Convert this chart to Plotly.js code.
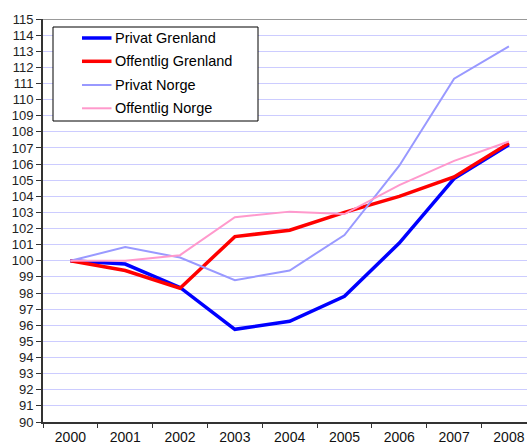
<!DOCTYPE html>
<html><head><meta charset="utf-8">
<script src="https://cdn.plot.ly/plotly-3.0.1.min.js"></script>
<style>html,body{margin:0;padding:0;background:#fff}#c{width:527px;height:448px}</style>
</head><body><div id="c"></div>
<script>
var years = ['2000','2001','2002','2003','2004','2005','2006','2007','2008'];
var privatGrenland = [100, 99.8, 98.35, 95.75, 96.25, 97.8, 101.1, 105.1, 107.2];
var offentligGrenland = [100, 99.4, 98.3, 101.5, 101.9, 103.0, 104.0, 105.2, 107.3];
var privatNorge = [100, 100.85, 100.2, 98.8, 99.4, 101.6, 105.9, 111.3, 113.3];
var offentligNorge = [100, 100.0, 100.35, 102.7, 103.05, 102.9, 104.7, 106.2, 107.4];
var seriesNames = ['Privat Grenland', 'Offentlig Grenland', 'Privat Norge', 'Offentlig Norge'];
var yTicks = [90,91,92,93,94,95,96,97,98,99,100,101,102,103,104,105,106,107,108,109,110,111,112,113,114,115];

var colors = ['#0000ff', '#ff0000', '#9999ff', '#ff99cc'];
var widths = [3.5, 3.5, 2, 2];
var values = [privatGrenland, offentligGrenland, privatNorge, offentligNorge];

var data = values.map(function(v, i){
  return {x: years, y: v, name: seriesNames[i], type:'scatter', mode:'lines',
    line:{color:colors[i], width:widths[i]}, showlegend:false};
});

// manual legend (paper coordinates; plot area 43..527 x 19..422)
function px(x){ return (x - 43) / 484; }
function py(y){ return (422 - y) / 403; }
var shapes = [
  {type:'line', xref:'paper', yref:'y', x0:0, x1:1, y0:115, y1:115, line:{color:'#999', width:2}},
  {type:'rect', xref:'paper', yref:'paper', x0:px(53), x1:px(258), y0:py(121), y1:py(27),
    line:{color:'#000', width:1}, fillcolor:'#fff', layer:'above'}
];
var annotations = [];
var rowsY = [38, 61.3, 85, 108.3];
seriesNames.forEach(function(n, i){
  shapes.push({type:'line', xref:'paper', yref:'paper', x0:px(82), x1:px(111.5), y0:py(rowsY[i]), y1:py(rowsY[i]),
    line:{color:colors[i], width:widths[i]}, layer:'above'});
  annotations.push({xref:'paper', yref:'paper', x:px(113), y:py(rowsY[i]), xanchor:'left', yanchor:'middle',
    text:n, showarrow:false, font:{size:14.5, color:'#000'}});
});

var layout = {
  width:527, height:448,
  margin:{l:43, r:0, t:19, b:26},
  paper_bgcolor:'#fff', plot_bgcolor:'#fff',
  font:{family:'Liberation Sans, Arial, sans-serif', color:'#000'},
  xaxis:{type:'category', range:[-0.5, 8.33], tickson:'boundaries', ticks:'outside', ticklen:4,
    tickcolor:'#333', showgrid:false, showline:true, linecolor:'#333', linewidth:2,
    tickfont:{size:14, color:'#111'}, ticklabelstandoff:1},
  yaxis:{range:[90,115], tickvals:yTicks, ticktext:yTicks.map(String), ticks:'outside', ticklen:5,
    tickcolor:'#333', showgrid:true, gridcolor:'#ccccff', gridwidth:1, zeroline:false,
    showline:true, linecolor:'#333', linewidth:2, tickfont:{size:13, color:'#222'}},
  shapes:shapes,
  annotations:annotations,
  showlegend:false
};
Plotly.newPlot('c', data, layout, {displayModeBar:false, staticPlot:true});
</script></body></html>
